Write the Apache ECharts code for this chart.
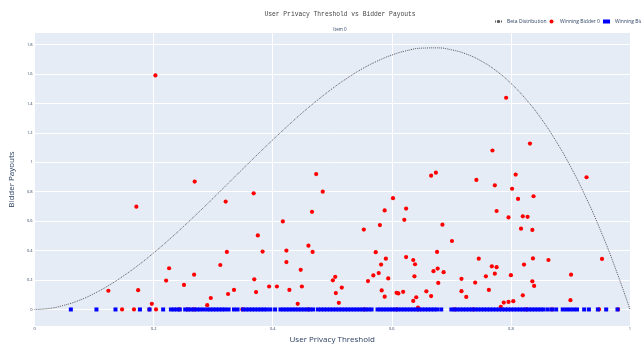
<!DOCTYPE html>
<html>
<head>
<meta charset="utf-8">
<script src="https://cdn.jsdelivr.net/npm/echarts@6/dist/echarts.min.js"></script>
<style>
  html, body { margin: 0; padding: 0; background: #ffffff; }
  #chart { width: 641px; height: 349px; }
</style>
</head>
<body>
<div id="chart"></div>
<script>
// Beta distribution density sampled along the threshold axis
const betaX = [
  0, 0.025, 0.05, 0.075, 0.1, 0.125, 0.15, 0.175, 0.2, 0.225, 0.25, 0.275,
  0.3, 0.325, 0.35, 0.375, 0.4, 0.425, 0.45, 0.475, 0.5, 0.525, 0.55, 0.575,
  0.6, 0.625, 0.65, 0.675, 0.7, 0.725, 0.75, 0.775, 0.8, 0.825, 0.85, 0.875,
  0.9, 0.925, 0.95, 0.975, 1
];
const betaY = [
  0, 0.007, 0.029, 0.062, 0.108, 0.164, 0.23, 0.303, 0.384, 0.471, 0.563, 0.658,
  0.756, 0.856, 0.956, 1.055, 1.152, 1.246, 1.337, 1.421, 1.5, 1.571, 1.634, 1.686,
  1.728, 1.758, 1.775, 1.777, 1.764, 1.735, 1.688, 1.622, 1.536, 1.429, 1.301, 1.148,
  0.972, 0.77, 0.542, 0.285, 0
];

// Winning bidder 0: privacy threshold and payout
const bidder0X = [
  0.203, 0.269, 0.171, 0.368, 0.321, 0.417, 0.375, 0.383, 0.423, 0.423,
  0.323, 0.226, 0.312, 0.268, 0.221, 0.251, 0.369, 0.394, 0.407, 0.372,
  0.428, 0.335, 0.325, 0.124, 0.174, 0.296, 0.290, 0.197,
  0.473, 0.484, 0.466, 0.460, 0.467, 0.447, 0.449, 0.442,
  0.505, 0.501, 0.516, 0.506, 0.511, 0.553, 0.602, 0.588, 0.580, 0.573,
  0.590, 0.582, 0.569, 0.578, 0.560, 0.594, 0.583, 0.588, 0.608, 0.611,
  0.619, 0.624, 0.621, 0.624, 0.636, 0.639, 0.638, 0.636, 0.641, 0.658,
  0.666, 0.666, 0.674, 0.685, 0.676, 0.677, 0.670, 0.687, 0.678, 0.701,
  0.717, 0.717, 0.644,
  0.792, 0.832, 0.769, 0.927, 0.808, 0.742, 0.773, 0.802, 0.838, 0.812,
  0.776, 0.796, 0.820, 0.828, 0.817, 0.836, 0.746, 0.837, 0.863, 0.953,
  0.768, 0.776, 0.822, 0.773, 0.758, 0.800, 0.740, 0.836, 0.839, 0.901,
  0.725, 0.763, 0.820, 0.796, 0.804, 0.788, 0.783, 0.900,
  0.147, 0.167, 0.193, 0.204, 0.243, 0.257, 0.268, 0.349, 0.460, 0.554,
  0.608, 0.644, 0.706, 0.737, 0.826, 0.869, 0.948, 0.980
];
const bidder0Y = [
  1.59, 0.869, 0.698, 0.789, 0.733, 0.598, 0.503, 0.393, 0.40, 0.322,
  0.391, 0.28, 0.302, 0.236, 0.196, 0.167, 0.205, 0.156, 0.156, 0.118,
  0.133, 0.133, 0.105, 0.127, 0.131, 0.078, 0.029, 0.038,
  0.92, 0.80, 0.663, 0.433, 0.391, 0.269, 0.156, 0.038,
  0.222, 0.198, 0.149, 0.111, 0.045, 0.543, 0.756, 0.673, 0.573, 0.389,
  0.345, 0.305, 0.231, 0.247, 0.193, 0.211, 0.129, 0.087, 0.113, 0.109,
  0.12, 0.685, 0.609, 0.356, 0.336, 0.307, 0.225, 0.058, 0.083, 0.123,
  0.091, 0.909, 0.929, 0.576, 0.391, 0.278, 0.26, 0.253, 0.18, 0.465,
  0.208, 0.124, 0.013,
  1.438, 1.127, 1.08, 0.898, 0.916, 0.88, 0.843, 0.82, 0.769, 0.751,
  0.669, 0.625, 0.633, 0.629, 0.549, 0.54, 0.345, 0.347, 0.336, 0.343,
  0.293, 0.287, 0.305, 0.243, 0.225, 0.233, 0.183, 0.191, 0.16, 0.236,
  0.085, 0.133, 0.096, 0.051, 0.056, 0.047, 0.018, 0.063,
  0, 0, 0, 0, 0, 0, 0, 0, 0, 0,
  0, 0, 0, 0, 0, 0, 0, 0
];

// Winning bidder 1: privacy thresholds (every payout is zero)
const bidder1X = [
  0.061, 0.104, 0.136, 0.177, 0.193, 0.216,
  0.229, 0.234, 0.239, 0.244,
  0.253, 0.258, 0.263, 0.268, 0.273, 0.278, 0.284,
  0.290, 0.295, 0.300, 0.305, 0.310, 0.315, 0.320, 0.326,
  0.335, 0.341,
  0.350, 0.355, 0.360, 0.365, 0.370, 0.375, 0.380, 0.385, 0.390, 0.396, 0.404,
  0.413, 0.418, 0.423, 0.428, 0.433, 0.438, 0.443, 0.448, 0.453, 0.458, 0.463, 0.468,
  0.476, 0.481, 0.486, 0.491, 0.496, 0.501, 0.506, 0.511, 0.516, 0.521, 0.526,
  0.531, 0.536, 0.541, 0.546, 0.551, 0.556, 0.561, 0.566,
  0.576, 0.581, 0.586, 0.591, 0.596, 0.601, 0.606, 0.611, 0.616, 0.621, 0.626,
  0.631, 0.636, 0.641, 0.646, 0.651, 0.656, 0.661, 0.666, 0.671, 0.676, 0.683,
  0.700, 0.705, 0.710, 0.715, 0.720, 0.725, 0.730, 0.735, 0.740, 0.745, 0.750,
  0.755, 0.760, 0.765, 0.770, 0.775, 0.780, 0.785, 0.790, 0.795, 0.800, 0.805,
  0.810, 0.815, 0.820, 0.825, 0.830, 0.835, 0.840, 0.845, 0.850, 0.855,
  0.862, 0.869, 0.876, 0.887, 0.893, 0.899, 0.905, 0.911, 0.923, 0.931,
  0.946, 0.960, 0.979
];
const bidder1Payout = 0;

// Axis tick labels
const xTicks = [0, 0.2, 0.4, 0.6, 0.8, 1];
const yTicks = [0, 0.2, 0.4, 0.6, 0.8, 1, 1.2, 1.4, 1.6, 1.8];

const axisInk = '#2a3f5f';
const fmt = v => String(+(+v).toFixed(1));

const chart = echarts.init(document.getElementById('chart'), null, { renderer: 'canvas' });
chart.setOption({
  animation: false,
  backgroundColor: '#ffffff',
  textStyle: { fontFamily: 'Open Sans' },
  title: [
    {
      text: 'User Privacy Threshold vs Bidder Payouts',
      left: 340, top: 11, padding: 0, textAlign: 'center',
      textStyle: { fontFamily: '"Courier New", "Liberation Mono", monospace', fontSize: 6.3, fontWeight: 'normal', color: '#444444' }
    },
    {
      text: 'Item 0',
      left: 340, top: 27, padding: 0, textAlign: 'center',
      textStyle: { fontFamily: 'Open Sans', fontSize: 4.5, fontWeight: 'normal', color: axisInk }
    }
  ],
  legend: {
    left: 494, top: 19, width: 400, padding: 0,
    itemWidth: 7, itemHeight: 4, itemGap: 3,
    textStyle: { fontSize: 5, color: axisInk, fontFamily: 'Open Sans' },
    data: [
      { name: 'Beta Distribution' },
      { name: 'Winning Bidder 0', icon: 'circle' },
      { name: 'Winning Bidder 1', icon: 'rect' }
    ]
  },
  grid: { left: 30, right: 11, top: 33, bottom: 17, backgroundColor: '#E5ECF6', show: true, borderWidth: 0 },
  xAxis: {
    type: 'value', min: 0, max: 1, interval: 0.2,
    name: 'User Privacy Threshold', nameLocation: 'middle', nameGap: 9,
    nameTextStyle: { fontSize: 8, color: axisInk, fontFamily: 'Open Sans' },
    axisLine: { show: false }, axisTick: { show: false },
    axisLabel: { fontSize: 4, color: axisInk, margin: 1, formatter: fmt },
    splitLine: { show: true, lineStyle: { color: '#ffffff', width: 1 } }
  },
  yAxis: {
    type: 'value', min: -0.113, max: 1.878,
    name: 'Bidder Payouts', nameLocation: 'middle', nameGap: 14,
    nameTextStyle: { fontSize: 8, color: axisInk, fontFamily: 'Open Sans' },
    axisLine: { show: false },
    axisTick: { show: false, customValues: yTicks },
    axisLabel: { fontSize: 4, color: axisInk, margin: 2, formatter: fmt, customValues: yTicks },
    splitLine: { show: true, lineStyle: { color: '#ffffff', width: 1 } }
  },
  series: [
    {
      name: 'Beta Distribution', type: 'line', smooth: true, symbol: 'none',
      data: betaX.map((x, i) => [x, betaY[i]]),
      lineStyle: { color: '#5a5a5a', width: 1, type: [1, 1] },
      itemStyle: { color: '#5a5a5a' }
    },
    {
      name: 'Winning Bidder 0', type: 'scatter', symbol: 'circle', symbolSize: 4.2,
      data: bidder0X.map((x, i) => [x, bidder0Y[i]]),
      itemStyle: { color: '#ff0000', opacity: 1 }
    },
    {
      name: 'Winning Bidder 1', type: 'scatter', symbol: 'rect', symbolSize: 4,
      data: bidder1X.map(x => [x, bidder1Payout]),
      itemStyle: { color: '#0000ff', opacity: 1 }
    }
  ]
});
</script>
</body>
</html>
